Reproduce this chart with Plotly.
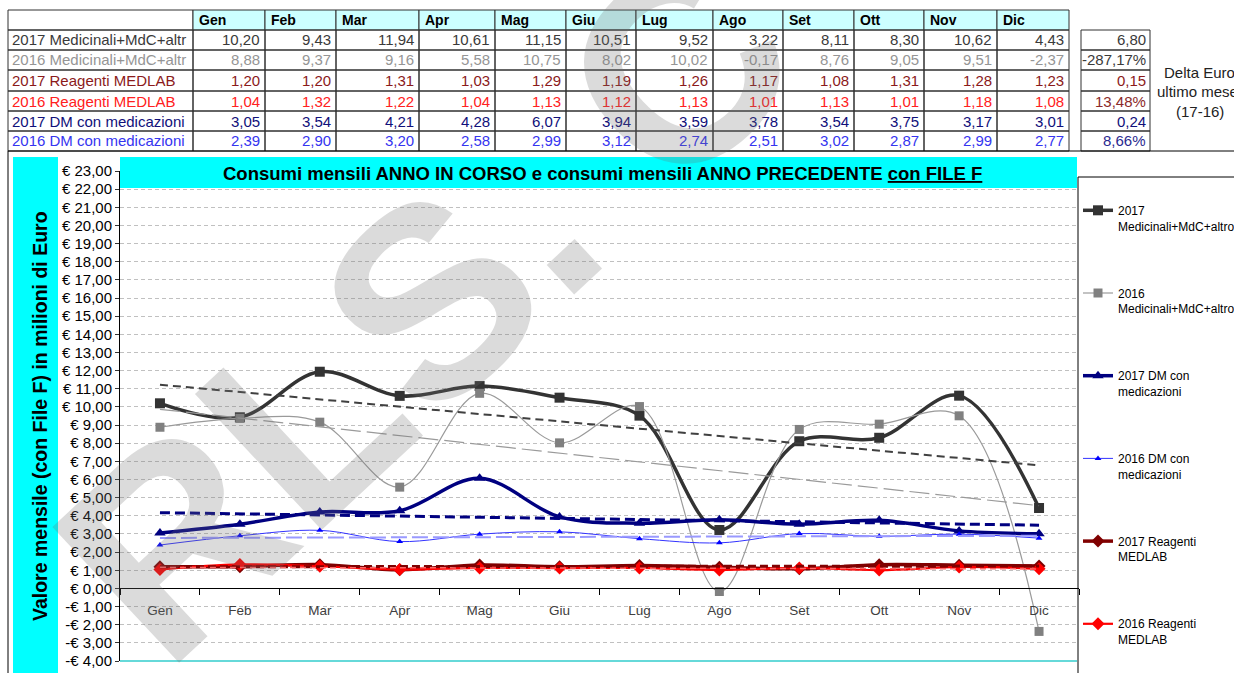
import numpy as np
import plotly.graph_objects as go

# ---------------------------------------------------------------- data
months = ["Gen", "Feb", "Mar", "Apr", "Mag", "Giu", "Lug", "Ago", "Set", "Ott", "Nov", "Dic"]

med_2017 = [10.20, 9.43, 11.94, 10.61, 11.15, 10.51, 9.52, 3.22, 8.11, 8.30, 10.62, 4.43]
med_2016 = [8.88, 9.37, 9.16, 5.58, 10.75, 8.02, 10.02, -0.17, 8.76, 9.05, 9.51, -2.37]
reag_2017 = [1.20, 1.20, 1.31, 1.03, 1.29, 1.19, 1.26, 1.17, 1.08, 1.31, 1.28, 1.23]
reag_2016 = [1.04, 1.32, 1.22, 1.04, 1.13, 1.12, 1.13, 1.01, 1.13, 1.01, 1.18, 1.08]
dm_2017 = [3.05, 3.54, 4.21, 4.28, 6.07, 3.94, 3.59, 3.78, 3.54, 3.75, 3.17, 3.01]
dm_2016 = [2.39, 2.90, 3.20, 2.58, 2.99, 3.12, 2.74, 2.51, 3.02, 2.87, 2.99, 2.77]

delta_labels = ["6,80", "-287,17%", "0,15", "13,48%", "0,24", "8,66%"]

y_ticks = list(range(-4, 24))

# ---------------------------------------------------------------- geometry helpers
W, H = 1234, 673
PL, PR, PT, PB = 120, 1079, 171, 661


def fx(px):
    return (px - PL) / (PR - PL)


def fy(py):
    return (PB - py) / (PB - PT)


def eur(v):
    s = "€ " + f"{abs(v):.2f}".replace(".", ",")
    return "-" + s if v < 0 else s


def num(v):
    return f"{v:.2f}".replace(".", ",")


shapes = []
annotations = []


def rect(x0, y0, x1, y1, fill="rgba(0,0,0,0)", line="#000000", lw=1, layer="above"):
    shapes.append(dict(type="rect", xref="paper", yref="paper",
                       x0=fx(x0), x1=fx(x1), y0=fy(y0), y1=fy(y1),
                       fillcolor=fill, line=dict(color=line, width=lw), layer=layer))


def hline(x0, x1, y, color="#000000", lw=1):
    shapes.append(dict(type="line", xref="paper", yref="paper",
                       x0=fx(x0), x1=fx(x1), y0=fy(y), y1=fy(y),
                       line=dict(color=color, width=lw), layer="above"))


def vline(x, y0, y1, color="#000000", lw=1):
    shapes.append(dict(type="line", xref="paper", yref="paper",
                       x0=fx(x), x1=fx(x), y0=fy(y0), y1=fy(y1),
                       line=dict(color=color, width=lw), layer="above"))


def text(px, py, s, size=15, color="#000000", anchor="left", bold=False, angle=0, family="Arial, Liberation Sans"):
    annotations.append(dict(xref="paper", yref="paper", x=fx(px), y=fy(py),
                            text=f"<b>{s}</b>" if bold else s, showarrow=False,
                            xanchor=anchor, yanchor="middle", textangle=angle,
                            font=dict(size=size, color=color, family=family)))


# ---------------------------------------------------------------- summary table
col_edges = [8, 193, 265, 336, 419, 495, 566, 636, 713, 783, 854, 924, 997, 1069]
row_edges = [10, 30, 50, 70, 91, 111, 131, 151]

table_rows = [
    ("2017 Medicinali+MdC+altr", med_2017, "#3a3a3a"),
    ("2016 Medicinali+MdC+altr", med_2016, "#959595"),
    ("2017 Reagenti MEDLAB", reag_2017, "#8b1a1a"),
    ("2016 Reagenti MEDLAB", reag_2016, "#ff2020"),
    ("2017 DM con medicazioni", dm_2017, "#10107a"),
    ("2016 DM con medicazioni", dm_2016, "#3535f0"),
]
delta_colors = ["#3a3a3a", "#3a3a3a", "#8b1a1a", "#8b2a2a", "#10107a", "#2a2a90"]

# header
rect(col_edges[0], row_edges[0], col_edges[1], row_edges[1], fill="#ffffff", line="#303030")
for i, m in enumerate(months):
    rect(col_edges[i + 1], row_edges[0], col_edges[i + 2], row_edges[1], fill="#ccffff", line="#303030")
    text(col_edges[i + 1] + 4, (row_edges[0] + row_edges[1]) / 2, m, size=14, bold=True)

# body
for r, (label, vals, color) in enumerate(table_rows):
    y0, y1 = row_edges[r + 1], row_edges[r + 2]
    yc = (y0 + y1) / 2
    rect(col_edges[0], y0, col_edges[1], y1, line="#303030")
    text(col_edges[0] + 2, yc, label, size=15, color=color)
    for i, v in enumerate(vals):
        rect(col_edges[i + 1], y0, col_edges[i + 2], y1, line="#303030")
        text(col_edges[i + 2] - 3, yc, num(v), size=15, color=color, anchor="right")
    rect(1081, y0, 1150, y1, line="#303030")
    text(1148, yc, delta_labels[r], size=15, color=delta_colors[r], anchor="right")

text(1162, 72, "Delta Euro", size=15, color="#222222")
text(1155, 91, "ultimo mese", size=15, color="#222222")
text(1200, 111, "(17-16)", size=15, color="#222222", anchor="center")

# ---------------------------------------------------------------- chart frame
hline(8, W, 151)
vline(8, 151, H)
rect(13, 157, 58, H + 5, fill="#00ffff", line="#00ffff", lw=0)
rect(120, 157, 1077, 188, fill="#00ffff", line="#00ffff", lw=0)
hline(120, 1077, 661, color="#33cccc", lw=1.5)
rect(1078, 177, W + 5, H + 5, line="#000000")

text(602, 173, "Consumi mensili ANNO IN CORSO e consumi mensili ANNO PRECEDENTE "
     "<span style='text-decoration:underline'>con FILE F</span>", size=18.5, bold=True, anchor="center")
text(40, 416, "Valore mensile (con File F) in milioni di Euro", size=19.5, bold=True, anchor="center", angle=-90)

# ---------------------------------------------------------------- series
series = [
    ("2017<br>Medicinali+MdC+altro", med_2017, "#333333", 3.5, "square", 10, "#333333"),
    ("2016<br>Medicinali+MdC+altro", med_2016, "#9a9a9a", 1.2, "square", 9, "#808080"),
    ("2017 DM con<br>medicazioni", dm_2017, "#000080", 3.5, "triangle-up", 10, "#000080"),
    ("2016 DM con<br>medicazioni", dm_2016, "#3333ff", 1.0, "triangle-up", 6, "#0000ff"),
    ("2017 Reagenti<br>MEDLAB", reag_2017, "#800000", 3.5, "diamond", 10, "#800000"),
    ("2016 Reagenti<br>MEDLAB", reag_2016, "#ff0000", 2.2, "diamond", 10, "#ff0000"),
]

fig = go.Figure()
for k, (name, vals, color, lw, sym, msize, mcolor) in enumerate(series):
    fig.add_trace(go.Scatter(
        x=months, y=vals, name=name, mode="lines+markers",
        line=dict(color=color, width=lw, shape="spline", smoothing=1.0),
        marker=dict(symbol=sym, size=msize, color=mcolor),
        legendgroup=f"g{k}", legendrank=k + 1,
    ))

# linear trend lines for each series
trend_styles = [
    (med_2017, "#404040", 2.0, "8px,5px"),
    (med_2016, "#9a9a9a", 1.2, "20px,6px"),
    (dm_2017, "#000080", 3.0, "10px,5px"),
    (dm_2016, "#9999ff", 2.0, "16px,5px"),
    (reag_2017, "#800000", 3.0, "8px,4px"),
    (reag_2016, "#ff6666", 1.5, "6px,4px"),
]
idx = np.arange(len(months))
for vals, color, lw, dash in trend_styles:
    slope, intercept = np.polyfit(idx, np.array(vals), 1)
    fig.add_trace(go.Scatter(
        x=months, y=slope * idx + intercept, mode="lines", showlegend=False,
        line=dict(color=color, width=lw, dash=dash), hoverinfo="skip",
    ))

# faint watermark lettering across the sheet
annotations.append(dict(xref="paper", yref="paper", x=fx(425), y=fy(305),
                        text="<b>RLS. C</b>", showarrow=False, textangle=-43,
                        xanchor="center", yanchor="middle",
                        font=dict(size=270, color="rgba(110,110,110,0.25)", family="Arial, Liberation Sans")))

fig.update_layout(
    width=W, height=H,
    margin=dict(l=PL, r=W - PR, t=PT, b=H - PB, pad=0, autoexpand=False),
    paper_bgcolor="#ffffff", plot_bgcolor="#ffffff",
    font=dict(family="Arial, Liberation Sans", color="#000000"),
    xaxis=dict(type="category", categoryorder="array", categoryarray=months,
               range=[-0.5, 11.5], anchor="free", position=4 / 27,
               showline=True, linecolor="#000000", linewidth=1,
               ticks="outside", tickson="boundaries", ticklen=6, tickcolor="#000000",
               tickfont=dict(size=13.5, color="#404040"), ticklabelstandoff=9,
               showgrid=False, zeroline=False),
    yaxis=dict(range=[-4, 23], tickmode="array", tickvals=y_ticks,
               ticktext=[eur(v) for v in y_ticks],
               showgrid=True, gridcolor="#c0c0c0", gridwidth=1, griddash="4px,3px",
               zeroline=False, showline=True, linecolor="#000000", linewidth=1,
               ticks="outside", ticklen=4, tickcolor="#333333",
               tickfont=dict(size=15, color="#000000")),
    legend=dict(x=fx(1078), y=fy(196), xanchor="left", yanchor="top",
                bgcolor="rgba(0,0,0,0)", borderwidth=0,
                font=dict(size=12, color="#000000"),
                tracegroupgap=48.5, valign="top", itemwidth=30),
    shapes=shapes,
    annotations=annotations,
)

fig.write_html("out.html")
